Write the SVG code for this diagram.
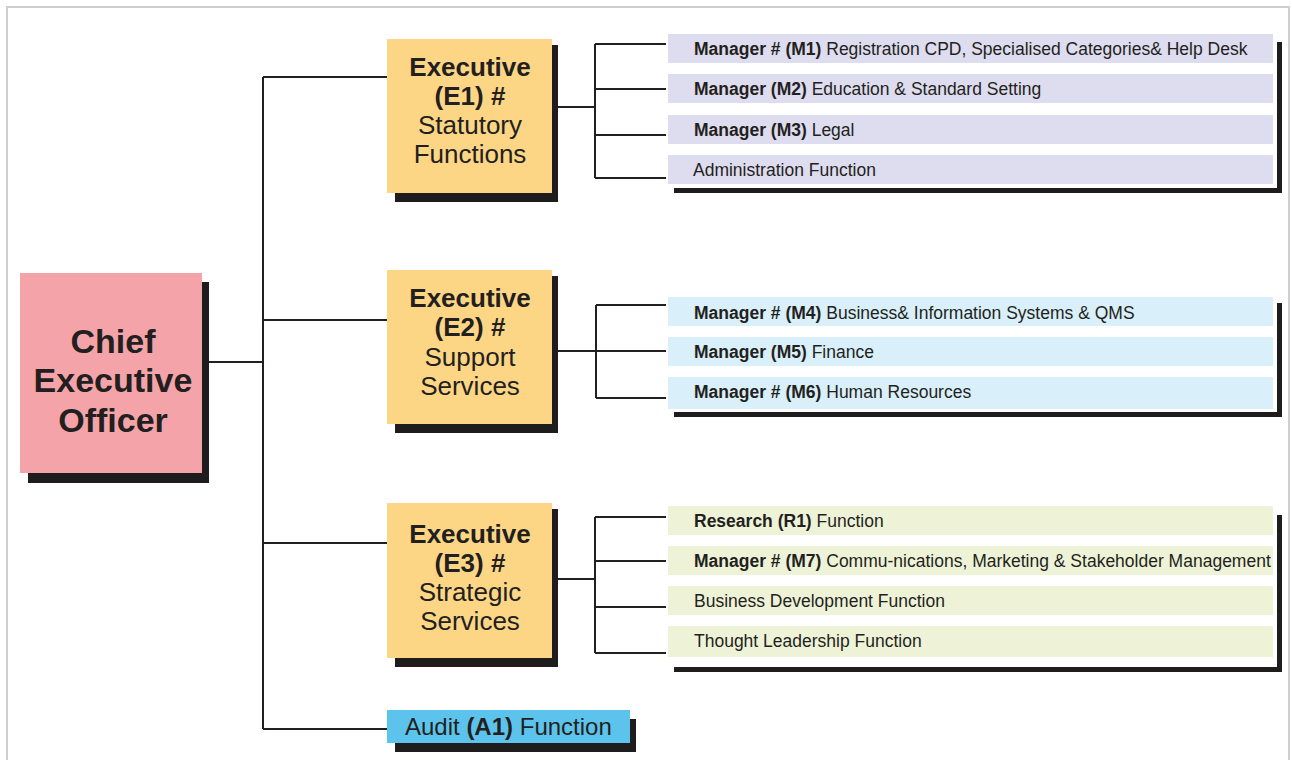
<svg xmlns="http://www.w3.org/2000/svg" width="1292" height="760" viewBox="0 0 1292 760">
<style>
.frame{fill:none;stroke:#cfcfcf;stroke-width:2}
.sh{fill:#1e1c1d}
.pan{fill:#ffffff}
.ceo{fill:#f4a4a9}
.exe{fill:#fcd684}
.aud{fill:#5cc4ec}
.pur{fill:#dedcef}
.blu{fill:#d9eff9}
.grn{fill:#eef3d8}
.ln{fill:none;stroke:#231f20;stroke-width:2}
text{font-family:"Liberation Sans",Arial,sans-serif;fill:#231f20}
.t1{font-size:34px;font-weight:bold}
.t2{font-size:26px;text-anchor:middle}
.b{font-weight:bold}
.t3{font-size:17.5px}
.t4{font-size:24px}
</style>
<rect width="1292" height="760" fill="#ffffff"/>
<path class="frame" d="M7,760 V7 H1289 V760"/>

<g id="connectors">
<path class="ln" d="M263,77 V729"/>
<path class="ln" d="M202,362 H263"/>
<path class="ln" d="M263,77 H387 M263,320 H387 M263,543 H387 M263,729 H387"/>
<path class="ln" d="M552,107 H595 M595,44 V178 M595,44 H667 M595,89 H667 M595,135 H667 M595,178 H667"/>
<path class="ln" d="M552,351 H596 M596,305 V398 M596,305 H667 M596,351 H667 M596,398 H667"/>
<path class="ln" d="M552,579 H595 M595,517 V653 M595,517 H667 M595,561 H667 M595,607 H667 M595,653 H667"/>
</g>

<g id="ceo">
<rect class="sh" x="28" y="282" width="181" height="201"/>
<rect class="ceo" x="20" y="273" width="182" height="200"/>
<text class="t1" text-anchor="middle"><tspan x="113" y="353">Chief</tspan><tspan x="113" y="392">Executive</tspan><tspan x="113" y="432">Officer</tspan></text>
</g>

<g id="e1">
<rect class="sh" x="395" y="45" width="163" height="157"/>
<rect class="exe" x="387" y="39" width="165" height="154"/>
<text class="t2"><tspan class="b" x="470" y="76">Executive</tspan><tspan class="b" x="470" y="105">(E1) #</tspan><tspan x="470" y="134">Statutory</tspan><tspan x="470" y="163">Functions</tspan></text>
</g>

<g id="e2">
<rect class="sh" x="395" y="276" width="163" height="157"/>
<rect class="exe" x="387" y="270" width="165" height="154"/>
<text class="t2"><tspan class="b" x="470" y="307">Executive</tspan><tspan class="b" x="470" y="336">(E2) #</tspan><tspan x="470" y="366">Support</tspan><tspan x="470" y="395">Services</tspan></text>
</g>

<g id="e3">
<rect class="sh" x="395" y="509" width="163" height="158"/>
<rect class="exe" x="387" y="503" width="165" height="155"/>
<text class="t2"><tspan class="b" x="470" y="543">Executive</tspan><tspan class="b" x="470" y="572">(E3) #</tspan><tspan x="470" y="601">Strategic</tspan><tspan x="470" y="630">Services</tspan></text>
</g>

<g id="audit">
<rect class="sh" x="395" y="719" width="241" height="33"/>
<rect class="aud" x="387" y="710" width="243" height="33"/>
<text class="t4" x="405" y="735">Audit <tspan class="b">(A1)</tspan> Function</text>
</g>

<g id="e1-units">
<rect class="sh" x="674" y="42" width="608" height="151"/>
<rect class="pan" x="666" y="31" width="611" height="157"/>
<rect class="pur" x="668" y="34" width="605" height="29"/>
<rect class="pur" x="668" y="74" width="605" height="29"/>
<rect class="pur" x="668" y="115" width="605" height="29"/>
<rect class="pur" x="668" y="155" width="605" height="29"/>
<text class="t3" x="694" y="55"><tspan class="b">Manager # (M1)</tspan> Registration CPD, Specialised Categories&amp; Help Desk</text>
<text class="t3" x="694" y="95"><tspan class="b">Manager (M2)</tspan> Education &amp; Standard Setting</text>
<text class="t3" x="694" y="136"><tspan class="b">Manager (M3)</tspan> Legal</text>
<text class="t3" x="693" y="176">Administration Function</text>
</g>

<g id="e2-units">
<rect class="sh" x="674" y="303" width="608" height="114"/>
<rect class="pan" x="666" y="294" width="611" height="118"/>
<rect class="blu" x="668" y="297" width="605" height="29"/>
<rect class="blu" x="668" y="337" width="605" height="29"/>
<rect class="blu" x="668" y="377" width="605" height="32"/>
<text class="t3" x="694" y="319"><tspan class="b">Manager # (M4)</tspan> Business&amp; Information Systems &amp; QMS</text>
<text class="t3" x="694" y="358"><tspan class="b">Manager (M5)</tspan> Finance</text>
<text class="t3" x="694" y="398"><tspan class="b">Manager # (M6)</tspan> Human Resources</text>
</g>

<g id="e3-units">
<rect class="sh" x="674" y="515" width="608" height="157"/>
<rect class="pan" x="666" y="503" width="611" height="164"/>
<rect class="grn" x="668" y="506" width="605" height="29"/>
<rect class="grn" x="668" y="546" width="605" height="29"/>
<rect class="grn" x="668" y="586" width="605" height="29"/>
<rect class="grn" x="668" y="626" width="605" height="31"/>
<text class="t3" x="694" y="527"><tspan class="b">Research (R1)</tspan> Function</text>
<text class="t3" x="694" y="567"><tspan class="b">Manager # (M7)</tspan> Commu-nications, Marketing &amp; Stakeholder Management</text>
<text class="t3" x="694" y="607">Business Development Function</text>
<text class="t3" x="694" y="647">Thought Leadership Function</text>
</g>
</svg>
